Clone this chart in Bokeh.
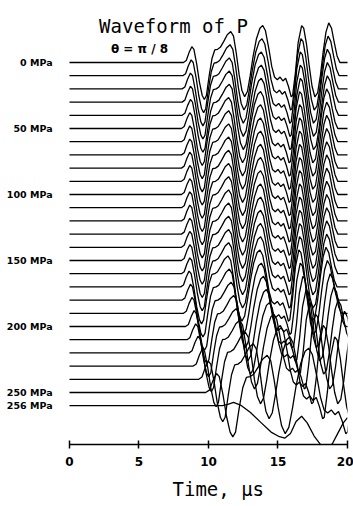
import numpy as np
from bokeh.plotting import figure
from bokeh.models import Range1d, FixedTicker, Title
from bokeh.core.properties import value
from bokeh.embed import file_html
from bokeh.resources import INLINE

# ---- data ----
pressures = [0, 10, 20, 30, 40, 50, 60, 70, 80, 90, 100, 110, 120, 130, 140,
             150, 160, 170, 180, 190, 200, 210, 220, 230, 240, 250, 256]
labelled = [0, 50, 100, 150, 200, 250, 256]
# arrival (onset) time of each trace, microseconds
onsets = [8.2, 8.15, 8.1, 8.1, 8.1, 8.05, 8.05, 8.05, 8.05, 8.05, 8.05, 8.05, 8.05, 8.05, 8.05,
          8.05, 8.05, 8.0, 8.1, 8.2, 8.35, 8.45, 8.6, 8.9, 9.3, 9.8, 11.0]
# time stretch of each trace relative to the 0 MPa trace
stretch = [1.0] * 19 + [1.01, 1.02, 1.04, 1.07, 1.1, 1.15, 1.3, 1.0]
# amplitude factor of each trace
amps = [1.0] * 22 + [1.05, 1.1, 1.15, 1.2, 1.0]

# waveform of the 0 MPa trace: time (us) and amplitude (trace spacings)
wave_t = [0.0, 8.2, 8.4, 8.6, 8.8, 8.95, 9.15, 9.35, 9.55, 9.7, 9.85, 10.05, 10.25,
          10.45, 10.65, 10.85, 11.1, 11.35, 11.6, 11.8, 12.0, 12.2, 12.4, 12.6, 12.8,
          13.0, 13.2, 13.45, 13.7, 13.9, 14.1, 14.35, 14.55, 14.75, 14.95, 15.15, 15.35,
          15.55, 15.75, 15.95, 16.05, 16.25, 16.45, 16.7, 16.85, 17.05, 17.25, 17.45,
          17.65, 17.85, 18.05, 18.25, 18.45, 18.65, 18.85, 19.05, 19.25, 19.45, 22.0]
wave_a = [0.0, 0.0, 0.15, 0.75, 1.2, 1.0, -0.1, -1.5, -2.5, -2.8, -2.5, -1.0, 0.3,
          0.95, 1.0, 1.15, 1.6, 2.1, 2.35, 2.0, 0.7, -0.9, -2.1, -2.6, -2.2,
          -1.0, 0.4, 1.8, 2.6, 2.8, 2.4, 1.0, -0.3, -1.1, -1.3, -1.1, -1.4,
          -1.2, -1.8, -2.6, -2.5, -0.8, 1.5, 2.8, 2.6, 1.4, -0.3, -1.8,
          -2.6, -2.3, -1.0, 0.8, 2.3, 3.0, 2.6, 1.5, 0.5, 0.0, 0.0]

# the 256 MPa trace has its own shape
w256_t = [0.0, 11.0, 11.4, 11.8, 12.3, 13.0, 13.8, 14.5, 15.1, 15.5, 15.9, 16.3,
          16.7, 17.1, 17.6, 18.1, 18.5, 18.9, 19.3, 19.7, 20.0]
w256_a = [0.0, 0.0, 0.1, 0.25, 0.05, -0.5, -1.3, -2.0, -2.35, -2.45, -2.1, -1.2,
          -0.8, -1.3, -2.3, -3.0, -3.1, -2.9, -2.1, -1.3, -0.9]

xticks = [0, 5, 10, 15, 20]

# ---- build traces ----
wt = np.array(wave_t)
wa = np.array(wave_a)
xs, ys = [], []
for i, (on, st, am) in enumerate(zip(onsets, stretch, amps)):
    if pressures[i] == 256:
        xs.append(list(w256_t))
        ys.append(list(-i + np.array(w256_a)))
        continue
    tx = np.where(wt < onsets[0], wt, on + (wt - onsets[0]) * st)
    tx[1] = on
    xs.append(list(tx))
    ys.append(list(-i + am * wa))

W, H = 353, 506
p = figure(width=W, height=H, output_backend="svg", toolbar_location=None,
           x_range=Range1d(-4.964, 20), y_range=Range1d(-28.94, 4.697),
           min_border_left=0, min_border_right=6, min_border_top=0, min_border_bottom=62)
p.outline_line_color = None
p.xgrid.visible = False
p.ygrid.visible = False
p.yaxis.visible = False
p.background_fill_color = "white"

p.multi_line(xs=xs, ys=ys, line_color="black", line_width=1.3)

# pressure labels
lab_x = [-1.22] * len(labelled)
lab_y = [-pressures.index(v) for v in labelled]
lab_t = [f"{v} MPa" for v in labelled]
p.text(x=lab_x, y=lab_y, text=lab_t, text_align="right", text_baseline="middle",
       text_font=value("DejaVu Sans"), text_font_style="bold", text_font_size="9.5px",
       text_color="black")

# title and subtitle
p.text(x=[7.48], y=[2.80], text=["Waveform of P"], text_align="center",
       text_baseline="alphabetic", text_font=value("DejaVu Sans Mono"),
       text_font_size="19px", text_color="black")
p.text(x=[5.04], y=[1.06], text=["θ = π / 8"], text_align="center",
       text_baseline="alphabetic", text_font=value("DejaVu Sans"), text_font_style="bold",
       text_font_size="12px", text_color="black")

ax = p.xaxis[0]
ax.bounds = (0, 20)
ax.ticker = FixedTicker(ticks=xticks)
ax.minor_tick_line_color = None
ax.major_tick_in = 4
ax.major_tick_out = 4
ax.axis_line_width = 1.5
ax.major_tick_line_width = 1.5
ax.axis_line_color = "black"
ax.major_tick_line_color = "black"
ax.major_label_text_font = "DejaVu Sans"
ax.major_label_text_font_style = "bold"
ax.major_label_text_font_size = "12px"
ax.major_label_text_color = "black"
ax.major_label_standoff = 8

# x-axis title, centred under the time axis
p.add_layout(Title(text="Time, μs", align="left", offset=172, standoff=14,
                   text_font="DejaVu Sans Mono", text_font_size="19px",
                   text_font_style="normal", text_color="black"), "below")

open("out.html", "w").write(file_html(p, INLINE))
